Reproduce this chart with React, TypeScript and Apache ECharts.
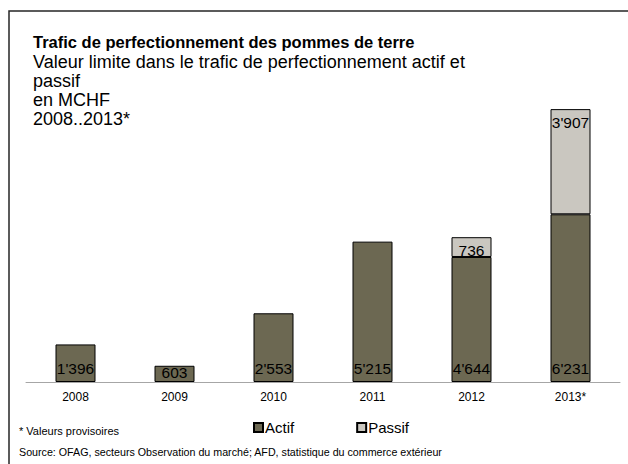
import React, { useEffect, useRef } from "react";
import * as echarts from "echarts";

const categories = ["2008", "2009", "2010", "2011", "2012", "2013*"];
const actif = [1396, 603, 2553, 5215, 4644, 6231];
const passif: (number | null)[] = [null, null, null, null, 736, 3907];

const titleText = "Trafic de perfectionnement des pommes de terre";
const subtitleLines = [
  "Valeur limite dans le trafic de perfectionnement actif et",
  "passif",
  "en MCHF",
  "2008..2013*",
];
const noteText = "* Valeurs provisoires";
const sourceText =
  "Source: OFAG, secteurs Observation du marché; AFD, statistique du commerce extérieur";

const FONT = "Arial, 'Liberation Sans', Helvetica, sans-serif";

const fmt = (v: number) => String(v).replace(/\B(?=(\d{3})+(?!\d))/g, "'");

export default function App() {
  const ref = useRef<HTMLDivElement>(null);
  useEffect(() => {
    if (!ref.current) return;
    const chart = echarts.init(ref.current, undefined, { renderer: "svg" });
    chart.setOption({
      animation: false,
      textStyle: { fontFamily: FONT },
      title: {
        text: titleText,
        subtext: subtitleLines.join("\n"),
        left: 33,
        top: 32,
        padding: 0,
        itemGap: 1,
        textStyle: {
          fontFamily: FONT,
          fontSize: 16.5,
          fontWeight: "bold",
          color: "#000",
          lineHeight: 19,
        },
        subtextStyle: {
          fontFamily: FONT,
          fontSize: 18,
          color: "#000",
          lineHeight: 19,
        },
      },
      legend: {
        data: ["Actif", "Passif"],
        left: 253,
        top: 420,
        padding: 0,
        itemWidth: 9,
        itemHeight: 9,
        itemGap: 62,
        icon: "rect",
        textStyle: { fontFamily: FONT, fontSize: 15, color: "#000", padding: [0, 0, 0, -3] },
      },
      grid: { left: 26, right: 8, top: 59, bottom: 82, containLabel: false },
      xAxis: {
        type: "category",
        data: categories,
        axisLine: { lineStyle: { color: "#a6a6a6", width: 1 } },
        axisTick: { length: 3, lineStyle: { color: "#a6a6a6" } },
        axisLabel: { fontFamily: FONT, fontSize: 12, color: "#000", margin: 9 },
      },
      yAxis: {
        type: "value",
        min: 0,
        max: 12000,
        show: false,
        splitLine: { show: false },
      },
      series: [
        {
          name: "Actif",
          type: "bar",
          stack: "total",
          barWidth: 40,
          data: actif.map((v) => ({
            value: v,
            label: v < 1000 ? { distance: 2 } : undefined,
          })),
          itemStyle: { color: "#6c6852", borderColor: "#000", borderWidth: 1 },
          label: {
            show: true,
            position: "insideBottom",
            distance: 6,
            fontFamily: FONT,
            fontSize: 15.5,
            color: "#000",
            formatter: (p: any) => fmt(p.value),
          },
        },
        {
          name: "Passif",
          type: "bar",
          stack: "total",
          barWidth: 40,
          data: passif,
          itemStyle: { color: "#cac7c0", borderColor: "#000", borderWidth: 1 },
          label: {
            show: true,
            position: "insideTop",
            distance: 5,
            fontFamily: FONT,
            fontSize: 15.5,
            color: "#000",
            formatter: (p: any) => (p.value == null ? "" : fmt(p.value)),
          },
        },
      ],
      graphic: [
        {
          type: "rect",
          shape: { x: 9, y: 11, width: 700, height: 520 },
          style: { fill: "none", stroke: "#262626", lineWidth: 1.5 },
          silent: true,
        },
        {
          type: "text",
          left: 19,
          top: 425,
          style: { text: noteText, fontFamily: FONT, fontSize: 11, fill: "#000" },
        },
        {
          type: "text",
          left: 19,
          top: 446,
          style: { text: sourceText, fontFamily: FONT, fontSize: 10.7, fill: "#000" },
        },
      ],
    });
    return () => chart.dispose();
  }, []);
  return (
    <div
      ref={ref}
      style={{ position: "fixed", left: 0, top: 0, width: 628, height: 464, background: "#fff" }}
    />
  );
}
